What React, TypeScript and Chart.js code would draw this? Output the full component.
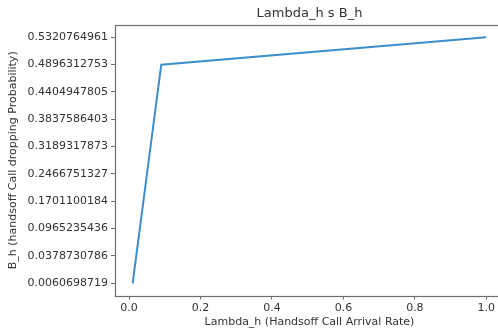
import React, { useEffect, useRef } from "react";
import { Chart, registerables } from "chart.js";

Chart.register(...registerables);

const chartTitle = "Lambda_h s B_h";
const xAxisTitle = "Lambda_h (Handsoff Call Arrival Rate)";
const yAxisTitle = "B_h (handsoff Call dropping Probability)";

// x values (arrival rate)
const xValues = [0.01, 0.02, 0.03, 0.04, 0.05, 0.06, 0.07, 0.08, 0.09, 1.0];
// y values are categorical strings (plotted in order of appearance)
const yValues = [
  "0.0060698719",
  "0.0378730786",
  "0.0965235436",
  "0.1701100184",
  "0.2466751327",
  "0.3189317873",
  "0.3837586403",
  "0.4404947805",
  "0.4896312753",
  "0.5320764961",
];
// category tick labels, bottom to top
const yLabels = [
  "0.0060698719",
  "0.0378730786",
  "0.0965235436",
  "0.1701100184",
  "0.2466751327",
  "0.3189317873",
  "0.3837586403",
  "0.4404947805",
  "0.4896312753",
  "0.5320764961",
];
const xTicks = [0, 0.2, 0.4, 0.6, 0.8, 1.0];

const FONT = '"DejaVu Sans", sans-serif';
const TEXT = "#333333";
const SPINE = "#6e6e6e";

const framePlugin = {
  id: "frameTitle",
  afterDraw(chart: any) {
    const { ctx, chartArea } = chart;
    const { left, top, right, bottom } = chartArea;
    ctx.save();
    ctx.strokeStyle = SPINE;
    ctx.lineWidth = 1.2;
    ctx.strokeRect(Math.round(left) + 0.5, Math.round(top) + 0.5, Math.round(right - left), Math.round(bottom - top));
    ctx.fillStyle = TEXT;
    ctx.font = "13px " + FONT;
    ctx.textAlign = "center";
    ctx.textBaseline = "middle";
    ctx.fillText(chartTitle, (left + right) / 2, 14);
    ctx.restore();
  },
};

export default function App() {
  const ref = useRef<HTMLCanvasElement | null>(null);

  useEffect(() => {
    document.body.style.margin = "0";
    const canvas = ref.current;
    if (!canvas) return;
    const points = xValues.map((x, i) => ({ x, y: yLabels.indexOf(yValues[i]) }));
    const chart = new Chart(canvas, {
      type: "line",
      data: {
        datasets: [
          {
            data: points,
            borderColor: "#3d8ecc",
            borderWidth: 2,
            pointRadius: 0,
            tension: 0,
            fill: false,
          },
        ],
      },
      options: {
        responsive: false,
        animation: false,
        devicePixelRatio: 1,
        layout: { padding: { top: 25, right: 16, left: 0, bottom: 0 } },
        plugins: {
          legend: { display: false },
          tooltip: { enabled: false },
          title: { display: false },
        },
        scales: {
          x: {
            type: "linear",
            min: -0.0395,
            max: 1.0495,
            afterBuildTicks: (scale: any) => {
              scale.ticks = xTicks.map((v) => ({ value: v }));
            },
            afterFit: (scale: any) => {
              scale.height = 34.4;
            },
            grid: {
              display: true,
              drawOnChartArea: false,
              drawTicks: true,
              tickLength: 4,
              color: SPINE,
              lineWidth: 1,
            },
            border: { display: false },
            ticks: {
              color: TEXT,
              font: { family: FONT, size: 11 },
              padding: 2,
              maxRotation: 0,
              callback: (v: any) => Number(v).toFixed(1),
            },
            title: {
              display: true,
              text: xAxisTitle,
              color: TEXT,
              font: { family: FONT, size: 11 },
              padding: { top: 0, bottom: 1 },
            },
          },
          y: {
            type: "linear",
            min: -0.45,
            max: 9.45,
            afterBuildTicks: (scale: any) => {
              scale.ticks = yLabels.map((_, i) => ({ value: i }));
            },
            afterFit: (scale: any) => {
              scale.width = 115;
            },
            grid: {
              display: true,
              drawOnChartArea: false,
              drawTicks: true,
              tickLength: 4,
              color: SPINE,
              lineWidth: 1,
            },
            border: { display: false },
            ticks: {
              color: TEXT,
              font: { family: FONT, size: 11 },
              padding: 3,
              callback: (v: any) => yLabels[Math.round(Number(v))],
            },
            title: {
              display: true,
              text: yAxisTitle,
              color: TEXT,
              font: { family: FONT, size: 11 },
              padding: { top: 7, bottom: 0 },
            },
          },
        },
      },
      plugins: [framePlugin],
    });
    return () => chart.destroy();
  }, []);

  return (
    <div
      style={{
        position: "absolute",
        left: 0,
        top: 0,
        width: 498,
        height: 330,
        overflow: "hidden",
        background: "#ffffff",
      }}
    >
      <canvas ref={ref} width={520} height={330} style={{ display: "block", width: 520, height: 330 }} />
    </div>
  );
}
